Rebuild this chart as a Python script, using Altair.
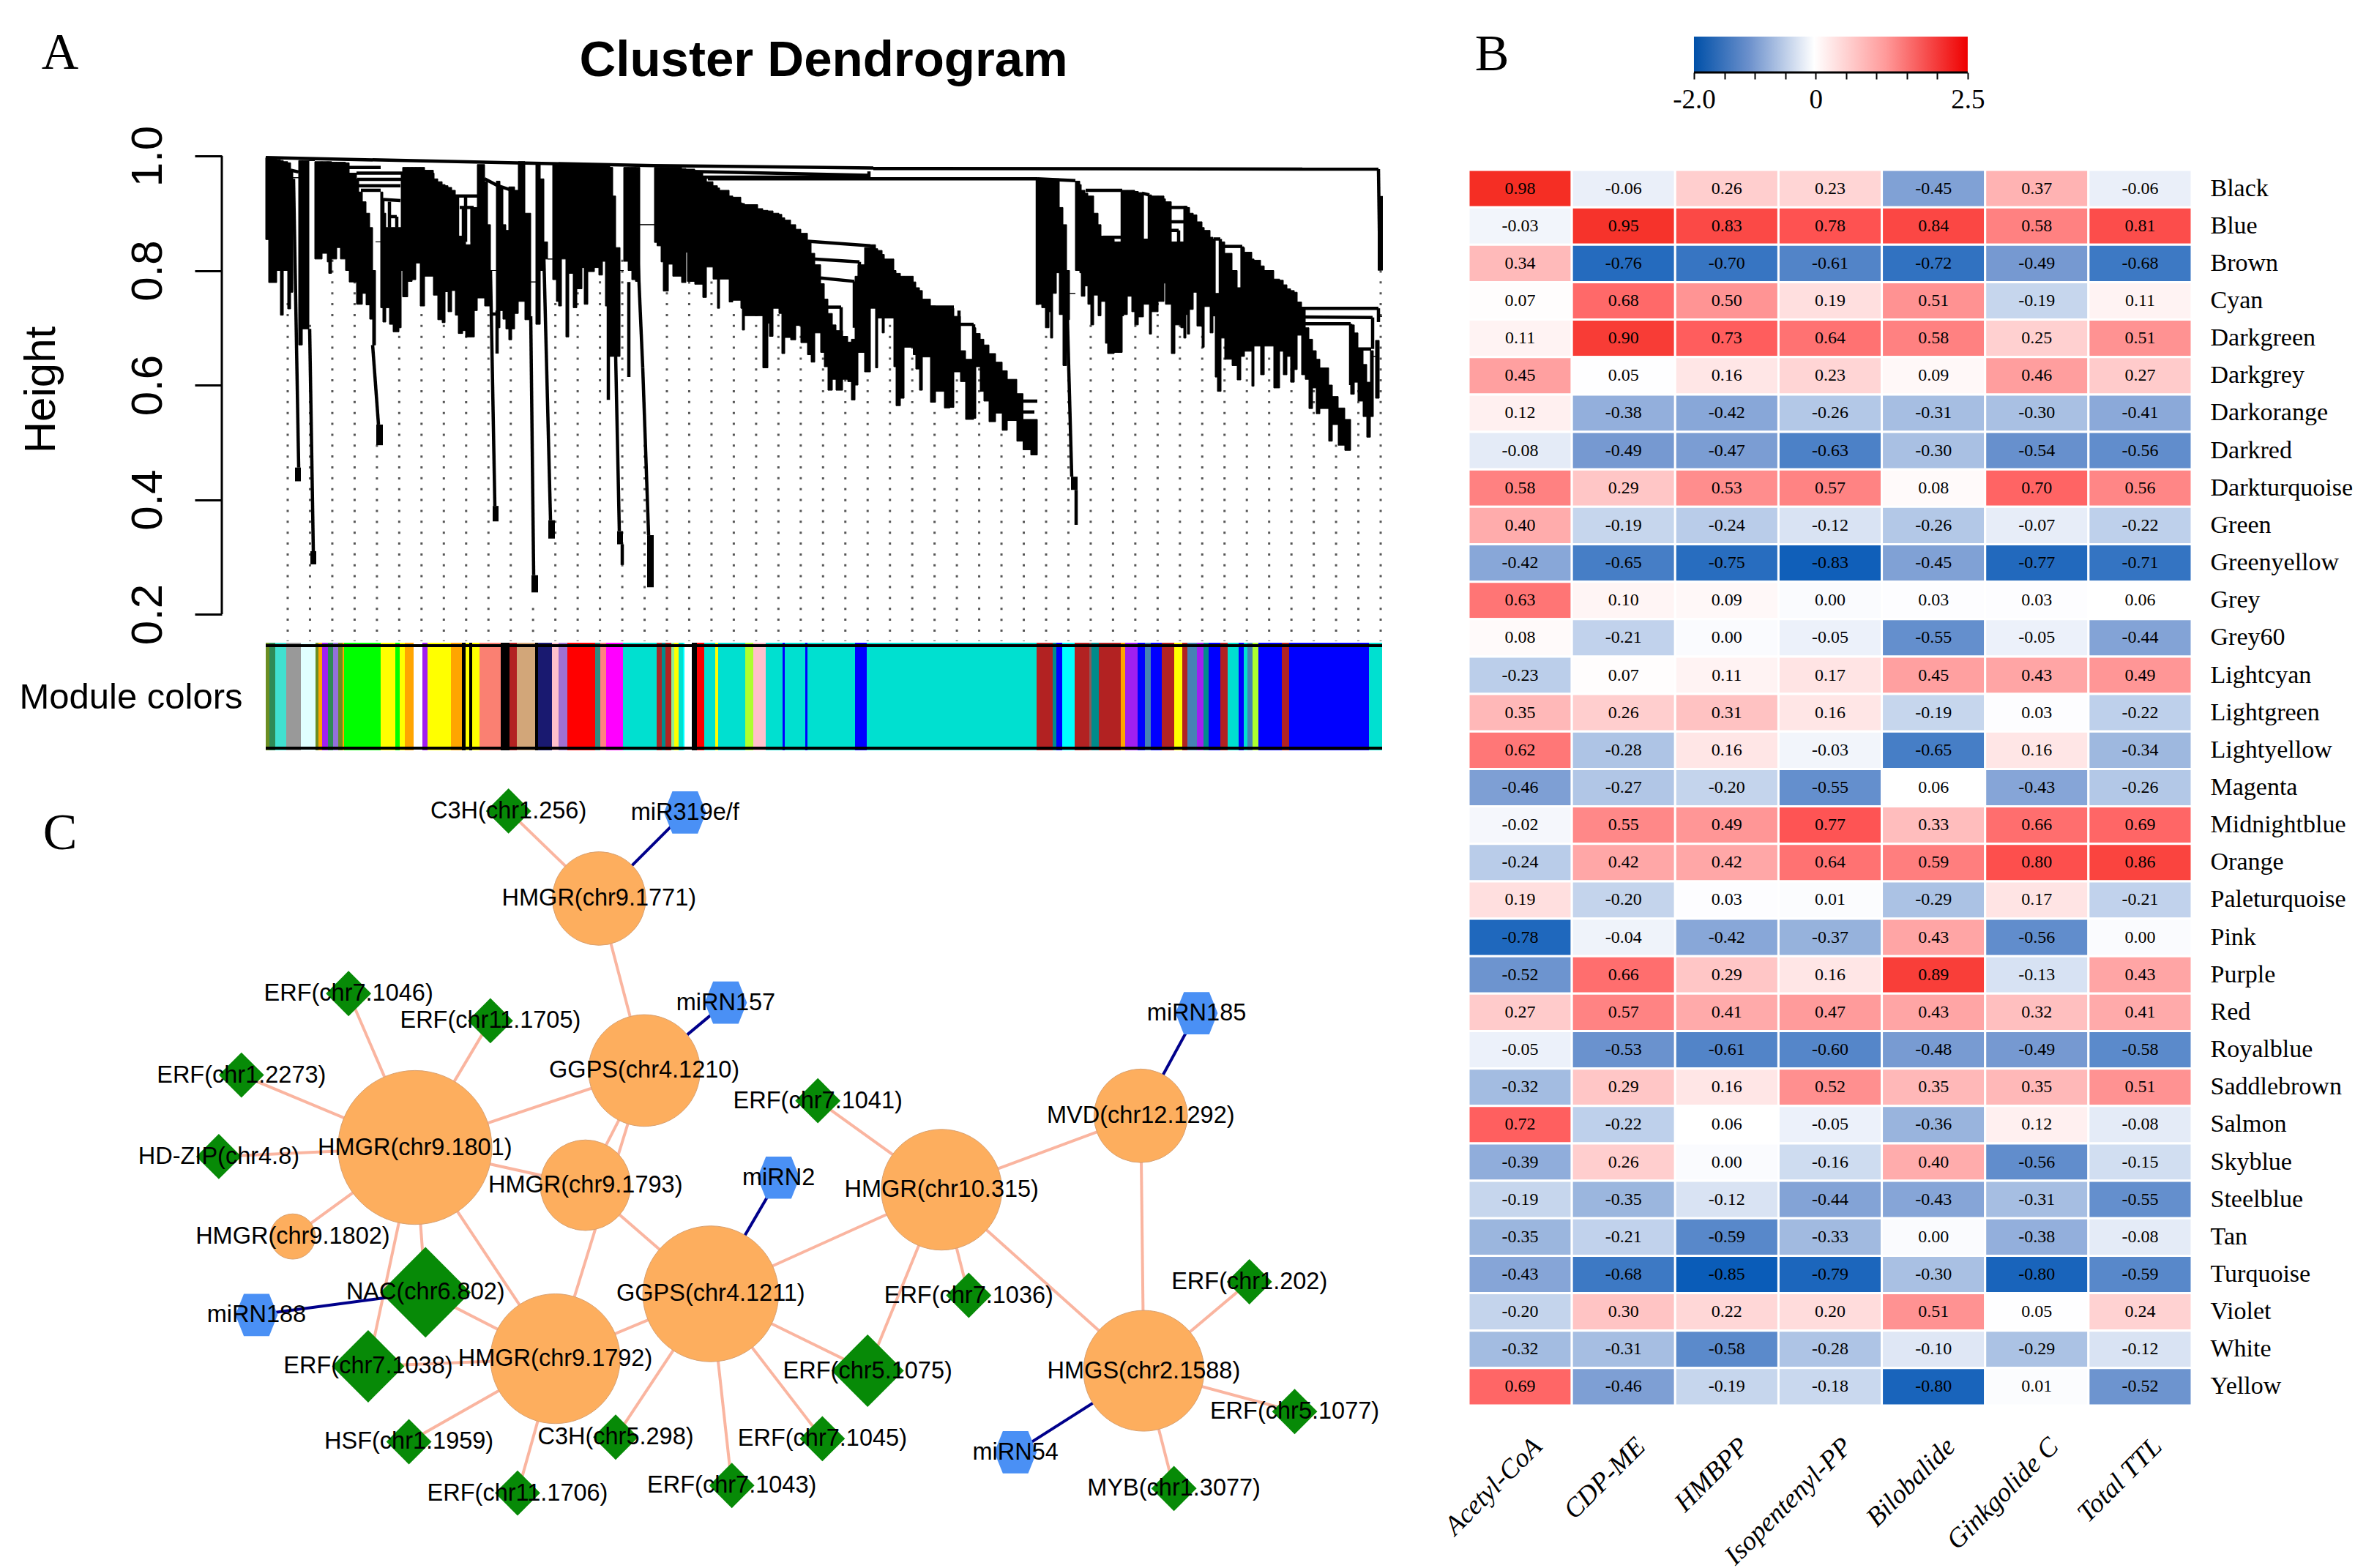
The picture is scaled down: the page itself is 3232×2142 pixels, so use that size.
import altair as alt
import pandas as pd

SANS = "Liberation Sans"
SERIF = "Liberation Serif"

# ---------- Panel A: dendrogram (leaf position, merge height, lowest leaf height) ----------
canopy_left = [
 (0,.997,.854),(4,.995,.779),(15,.993,.80),(20,.992,.722),(24,.99,.80),(30,.988,.733),(34,.975,.762),(37,.962,.962),
 (45,.992,.67),(50,.992,.698),(59,.992,.992),
 (67,.99,.82),(77,.99,.83),(84,.99,.815),(86,.99,.795),(90,.989,.82),(97,.989,.84),(102,.989,.82),(109,.988,.80),
 (114,.97,.78),(124,.96,.741),(127,.937,.741),(132,.92,.76),(137,.90,.74),(142,.875,.715),(146,.80,.67),(150,.85,.85),
 (157,.937,.735),(160,.90,.71),(164,.875,.735),(169,.875,.706),(174,.875,.693),(182,.875,.70),(185,.97,.80),
 (187,.98,.754),(194,.98,.781),(200,.98,.784),(205,.98,.813),(211,.98,.738),(217,.975,.79),(229,.97,.757),
 (230,.96,.757),(235,.955,.714),(241,.95,.709),(245,.948,.763),(249,.945,.728),(254,.94,.765),(259,.93,.722),
 (263,.86,.69),(269,.85,.695),(273,.845,.684),(280,.91,.684),(285,.91,.73),(289,.985,.752),(299,.955,.738),
 (303,.88,.738),(307,.8,.8),(315,.956,.70),(320,.946,.73),(324,.88,.715),(328,.87,.698),(332,.946,.679),(336,.946,.698),
 (340,.94,.725),(345,.99,.746),(354,.90,.714),(362,.78,.78),(369,.989,.706),(375,.96,.80),(380,.85,.82),(385,.82,.82),
 (392,.985,.784),(397,.985,.746),(400,.985,.738),(404,.985,.82),(410,.985,.684),(414,.985,.795),(420,.985,.735),
 (425,.985,.768),(432,.985,.805),(435,.985,.741),(440,.985,.798),(449,.985,.805),(455,.985,.792),(460,.985,.816),
 (464,.985,.738),(470,.98,.65),(474,.93,.65),(478,.84,.65),(484,.80,.80),(489,.98,.816),(495,.98,.80),(500,.98,.784),
 (505,.98,.781),(511,.88,.88),
]
canopy_middle = [
 (531,.98,.849),(534.5,.98,.843),(540,.98,.815),(543,.98,.764),(550,.98,.811),(556,.98,.79),(568,.978,.779),(574,.977,.832),
 (576,.977,.781),(586,.972,.776),(597,.962,.753),(602,.955,.806),(611,.948,.785),(617,.944,.734),(620,.94,.785),(633,.93,.745),
 (638,.928,.748),(649,.918,.734),(651,.917,.696),(654,.915,.721),(672,.908,.721),(679,.905,.63),(686,.904,.708),(688,.904,.685),
 (693,.90,.734),(701,.898,.725),(705,.892,.655),(709,.888,.683),(717,.88,.679),(724,.872,.704),(731,.865,.674),(740,.851,.653),
 (745,.83,.64),(750,.81,.691),(758,.777,.657),(763,.75,.632),(768,.725,.591),(774,.705,.61),(779,.695,.591),(788,.685,.61),
 (795,.675,.606),(800,.68,.574),(805,.79,.60),(809,.81,.657),(818,.84,.623),(826,.845,.734),(833,.838,.63),(836,.835,.717),
 (842,.828,.691),(845,.82,.717),(858,.80,.632),(861,.795,.564),(867,.79,.577),(872,.79,.666),(884.5,.78,.653),(888,.77,.628),
 (893,.765,.591),(897,.75,.649),(908,.738,.57),(915,.736,.589),(927,.735,.56),(934.5,.734,.561),(940,.72,.623),(949,.66,.606),
 (956,.645,.54),(967,.70,.542),(970,.69,.632),(976,.68,.589),(981,.67,.572),(988,.655,.536),(997,.64,.551),(1006,.625,.521),
 (1013,.61,.538),(1026,.585,.502),(1034.5,.54,.487),(1045,.54,.478),
]
canopy_right = [
 (1054,.96,.741),(1057,.96,.741),(1060,.96,.735),(1065,.96,.70),(1070,.96,.728),(1072,.96,.682),(1075,.96,.76),(1080,.96,.796),
 (1084,.91,.723),(1089,.88,.634),(1094,.80,.714),(1098,.76,.76),
 (1106,.956,.80),(1112,.95,.796),(1114,.94,.755),(1119,.935,.773),(1123,.93,.741),(1127,.93,.705),(1131,.90,.757),(1137,.88,.721),
 (1141,.86,.746),(1147,.86,.673),(1150,.855,.655),(1159,.85,.657),(1165,.85,.657),(1170,.94,.723),(1177,.94,.755),(1183,.94,.728),
 (1187,.938,.705),(1192,.936,.719),(1199,.855,.741),(1207,.932,.689),(1210,.93,.728),(1219,.93,.746),(1227,.925,.778),(1229,.92,.741),
 (1237,.85,.655),(1242,.85,.705),(1250,.85,.70),(1254,.912,.682),(1257,.911,.723),(1259,.91,.689),(1262,.90,.732),(1267,.897,.762),
 (1272,.885,.703),(1279,.875,.666),(1282,.87,.737),(1290,.858,.691),(1294,.855,.741),(1297,.76,.614),(1300,.76,.589),(1305,.85,.682),
 (1310,.83,.645),(1320,.80,.634),(1327,.77,.609),(1332,.84,.65),(1337,.832,.659),(1347,.82,.598),(1350,.818,.668),(1359,.808,.618),
 (1364,.80,.668),(1377,.785,.595),(1385,.783,.659),(1390,.775,.618),(1395,.768,.65),(1400,.765,.605),(1405,.762,.627),(1409,.745,.687),
 (1415,.732,.618),(1420,.70,.61),(1425,.68,.559),(1430,.66,.595),(1435,.645,.55),(1440,.63,.559),(1452,.60,.502),(1457,.58,.531),
 (1465,.56,.495),(1474,.54,.486),(1482,.705,.584),(1487,.691,.605),(1492,.664,.572),(1499,.636,.545),(1504,.605,.509),(1509,.66,.545),
 (1513,.65,.65),(1516,.678,.577),(1521,.72,.72),
]
canopy_end = 1525

# long single branches: start leaf, start height, end leaf, end height
long_stems = [
 (38,.96,45,.456),(60,.698,65,.31),(146,.67,154,.531),(307,.80,313,.389),(316,.73,316,.655),(362,.72,366,.268),(380,.82,389,.364),
 (468,.738,468,.574),(478,.65,483,.345),(487,.322,487,.286),(496,.78,496,.614),(503,.98,515,.63),(515,.63,523,.338),
 (1095,.72,1101,.44),(1107,.417,1107,.356),(1520,.977,1522,.80),
]
# dense leaf tips: left leaf, right leaf, upper height, lower height
tips = [
 (40,48,.456,.432),(61,69,.31,.287),(151,160,.531,.495),(310,318,.389,.362),(363,372,.268,.238),(386,395,.364,.332),(480,488,.345,.322),
 (521,530,.338,.247),(1100,1109,.44,.417),(1519,1526,.93,.80),
]
merges = [
 (0,.997,530,.983),(530,.983,830,.979),(830,.978,1520,.977),(583,.973,824,.966),(578,.963,824,.963),(604,.96,1054,.96),(1054,.96,1106,.957),(824,.973,824,.96),
 (109,.98,157,.98),(124,.97,187,.97),(125,.959,185,.959),(127,.948,184,.948),(130,.94,157,.94),(160,.924,184,.922),(169,.894,179,.894),
 (160,.924,160,.875),(169,.92,169,.875),(179,.894,179,.875),(299,.96,320,.946),(317,.948,336,.94),(259,.93,289,.93),(265,.91,284,.91),
 (262,.93,262,.86),(273,.93,273,.85),(282,.91,282,.85),(270,.91,270,.85),(307,.724,319,.724),(34,.975,45,.972),
 (740,.851,826,.843),(747,.82,811,.815),(758,.787,804,.781),(811,.815,811,.70),(804,.781,804,.70),(767,.736,786,.736),(786,.736,786,.68),
 (668,.901,686,.901),(674,.883,686,.883),(906,.736,940,.736),(947,.706,967,.706),(947,.73,947,.65),(967,.706,967,.60),
 (1033,.572,1054,.572),(1035,.553,1050,.553),(1054,.96,1054,.74),(1406,.734,1520,.734),(1520,.734,1520,.71),(1408,.719,1512,.718),(1512,.718,1512,.663),
 (1409,.707,1482,.707),(1482,.707,1482,.60),(1490,.663,1510,.663),(1120,.94,1170,.94),(1144,.858,1170,.858),(1170,.94,1170,.72),
 (1234,.91,1259,.91),(1234,.885,1257,.885),(1234,.87,1247,.87),(1259,.91,1259,.75),(1257,.885,1257,.75),(1247,.87,1247,.75),
 (1197,.935,1207,.932),(1197,.935,1197,.78),(1207,.932,1207,.75),(1295,.855,1304,.855),(1310,.842,1334,.842),(1334,.842,1334,.72),(1295,.855,1295,.72),(1304,.855,1304,.72),
]
guide_leaf = [30 + i * 30.47 for i in range(50)]
guide_start = [.75,.70,.82,.80,.50,.70,.74,.71,.69,.75,.70,.215,.74,.79,.80,.82,.50,.76,.78,.79,.72,.75,.82,.78,.70,.61,.61,.70,.67,.55,
               .63,.63,.52,.477,.685,.65,.70,.68,.70,.77,.72,.70,.72,.76,.65,.69,.59,.495,.59,.80]
height_ticks = [.2,.4,.6,.8,1.0]

# module colour strip: leaf where each colour begins
module_start = [0,5,13,28,48,68,72,77,85,92,99,105,107,157,177,183,190,202,214,221,253,268,273,278,282,292,321,333,343,368,372,391,400,412,450,457,465,488,534,541,546,554,558,564,570,572,582,589,599,614,618,655,666,683,706,709,737,740,805,821,1053,1075,1080,1088,1105,1125,1128,1138,1168,1174,1191,1201,1209,1224,1241,1252,1259,1272,1281,1288,1304,1314,1329,1336,1341,1348,1356,1388,1398,1507]
module_color = ["#6b8e23","#2e8b57","#40e0d0","#999999","#e0ffff","#6b8e23","#ffa500","#a020f0","#2e8b57","#9370db","#6b8e23","#ffa500","#00ff00","#ffff00","#00ff00","#ffff00","#ffa500","#ffffff","#a020f0","#ffff00","#ffa500","#000000","#ffff00","#000000","#ffff00","#fa8072","#000000","#b22222","#d2a679","#000000","#191970","#ffc0cb","#a070d0","#ff0000","#2e8b80","#ff8080","#ff00ff","#00e0d0","#a52a2a","#008b8b","#b22222","#90ee90","#ffff00","#00e0d0","#00ffff","#ffffff","#000000","#ff0000","#00e0d0","#ffff00","#00e0d0","#adff2f","#ffc0cb","#00e0d0","#0000ff","#00e0d0","#0000ff","#00e0d0","#0000ff","#00e0d0","#b22222","#008b8b","#0000ff","#00ffff","#b22222","#8b5a5a","#008b8b","#b22222","#ffa500","#a020f0","#0000ff","#4682b4","#0000ff","#b22222","#ffff00","#b22222","#4682b4","#a020f0","#008b8b","#0000ff","#b22222","#00e0d0","#0000ff","#00e0d0","#4682b4","#adff2f","#0000ff","#b22222","#0000ff","#00e0d0"]

# ---------- Panel B: correlation heat map ----------
traits = ["Acetyl-CoA","CDP-ME","HMBPP","Isopentenyl-PP","Bilobalide","Ginkgolide C","Total TTL"]
modules = ["Black","Blue","Brown","Cyan","Darkgreen","Darkgrey","Darkorange","Darkred","Darkturquoise","Green","Greenyellow","Grey","Grey60","Lightcyan","Lightgreen","Lightyellow","Magenta","Midnightblue","Orange","Paleturquoise","Pink","Purple","Red","Royalblue","Saddlebrown","Salmon","Skyblue","Steelblue","Tan","Turquoise","Violet","White","Yellow"]
correlations = [
 [.98,-.06,.26,.23,-.45,.37,-.06],[-.03,.95,.83,.78,.84,.58,.81],[.34,-.76,-.70,-.61,-.72,-.49,-.68],[.07,.68,.50,.19,.51,-.19,.11],
 [.11,.90,.73,.64,.58,.25,.51],[.45,.05,.16,.23,.09,.46,.27],[.12,-.38,-.42,-.26,-.31,-.30,-.41],[-.08,-.49,-.47,-.63,-.30,-.54,-.56],
 [.58,.29,.53,.57,.08,.70,.56],[.40,-.19,-.24,-.12,-.26,-.07,-.22],[-.42,-.65,-.75,-.83,-.45,-.77,-.71],[.63,.10,.09,.00,.03,.03,.06],
 [.08,-.21,.00,-.05,-.55,-.05,-.44],[-.23,.07,.11,.17,.45,.43,.49],[.35,.26,.31,.16,-.19,.03,-.22],[.62,-.28,.16,-.03,-.65,.16,-.34],
 [-.46,-.27,-.20,-.55,.06,-.43,-.26],[-.02,.55,.49,.77,.33,.66,.69],[-.24,.42,.42,.64,.59,.80,.86],[.19,-.20,.03,.01,-.29,.17,-.21],
 [-.78,-.04,-.42,-.37,.43,-.56,.00],[-.52,.66,.29,.16,.89,-.13,.43],[.27,.57,.41,.47,.43,.32,.41],[-.05,-.53,-.61,-.60,-.48,-.49,-.58],
 [-.32,.29,.16,.52,.35,.35,.51],[.72,-.22,.06,-.05,-.36,.12,-.08],[-.39,.26,.00,-.16,.40,-.56,-.15],[-.19,-.35,-.12,-.44,-.43,-.31,-.55],
 [-.35,-.21,-.59,-.33,.00,-.38,-.08],[-.43,-.68,-.85,-.79,-.30,-.80,-.59],[-.20,.30,.22,.20,.51,.05,.24],[-.32,-.31,-.58,-.28,-.10,-.29,-.12],
 [.69,-.46,-.19,-.18,-.80,.01,-.52],
]
heat_domain = [-1,-.85,-.5,-.25,0,.06,.25,.5,.75,1]
heat_range = ["#0050a8","#0a5cb8","#7397d0","#b6cae8","#fafbfe","#ffffff","#ffd0d0","#ff9494","#ff5858","#f42a20"]
bar_ticks = [-2,-1.5,-1,-.5,0,.5,1,1.5,2,2.5]

# ---------- Panel C: network ----------
nodes_hub = {
 "HMGR(chr9.1771)":(397,595,31),"GGPS(chr4.1210)":(427,709,37),"HMGR(chr9.1801)":(275,760,51),"HMGR(chr9.1793)":(388,785,30),
 "HMGR(chr9.1802)":(194,819,15),"HMGR(chr9.1792)":(368,900,43),"GGPS(chr4.1211)":(471,857,45),"HMGR(chr10.315)":(624,788,40),
 "MVD(chr12.1292)":(756,739,31),"HMGS(chr2.1588)":(758,908,40),
}
nodes_tf = {
 "C3H(chr1.256)":(337,537,15),"ERF(chr7.1046)":(231,658,15),"ERF(chr11.1705)":(325,676,15),"ERF(chr1.2273)":(160,712,15),
 "HD-ZIP(chr4.8)":(145,766,15),"NAC(chr6.802)":(282,856,30),"ERF(chr7.1038)":(244,905,24),"ERF(chr7.1041)":(542,729,15),
 "ERF(chr7.1036)":(642,858,15),"ERF(chr5.1075)":(575,908,24),"ERF(chr1.202)":(828,849,15),"ERF(chr5.1077)":(858,935,15),
 "MYB(chr1.3077)":(778,986,15),"C3H(chr5.298)":(408,952,15),"ERF(chr7.1045)":(545,953,15),"ERF(chr7.1043)":(485,984,15),
 "ERF(chr11.1706)":(343,989,15),"HSF(chr1.1959)":(271,955,15),
}
nodes_mirna = {
 "miR319e/f":(454,538,14),"miRN157":(481,664,14),"miRN188":(170,871,14),"miRN2":(516,780,14),"miRN185":(793,671,14),"miRN54":(673,962,14),
}
gene_edges = [
 ("C3H(chr1.256)","HMGR(chr9.1771)"),("HMGR(chr9.1771)","GGPS(chr4.1210)"),("ERF(chr7.1046)","HMGR(chr9.1801)"),("ERF(chr11.1705)","HMGR(chr9.1801)"),
 ("ERF(chr1.2273)","HMGR(chr9.1801)"),("HD-ZIP(chr4.8)","HMGR(chr9.1801)"),("HMGR(chr9.1802)","HMGR(chr9.1801)"),("HMGR(chr9.1801)","GGPS(chr4.1210)"),
 ("HMGR(chr9.1801)","HMGR(chr9.1793)"),("HMGR(chr9.1801)","NAC(chr6.802)"),("HMGR(chr9.1801)","ERF(chr7.1038)"),("HMGR(chr9.1801)","HMGR(chr9.1792)"),
 ("NAC(chr6.802)","HMGR(chr9.1792)"),("ERF(chr7.1038)","HMGR(chr9.1792)"),("HSF(chr1.1959)","HMGR(chr9.1792)"),("ERF(chr11.1706)","HMGR(chr9.1792)"),
 ("GGPS(chr4.1210)","HMGR(chr9.1793)"),("GGPS(chr4.1210)","HMGR(chr9.1792)"),("HMGR(chr9.1793)","GGPS(chr4.1211)"),("HMGR(chr9.1792)","GGPS(chr4.1211)"),
 ("GGPS(chr4.1211)","C3H(chr5.298)"),("GGPS(chr4.1211)","ERF(chr7.1045)"),("GGPS(chr4.1211)","ERF(chr7.1043)"),("GGPS(chr4.1211)","ERF(chr5.1075)"),
 ("GGPS(chr4.1211)","HMGR(chr10.315)"),("HMGR(chr10.315)","ERF(chr7.1041)"),("HMGR(chr10.315)","ERF(chr7.1036)"),("HMGR(chr10.315)","ERF(chr5.1075)"),
 ("HMGR(chr10.315)","MVD(chr12.1292)"),("HMGR(chr10.315)","HMGS(chr2.1588)"),("MVD(chr12.1292)","HMGS(chr2.1588)"),("HMGS(chr2.1588)","ERF(chr1.202)"),
 ("HMGS(chr2.1588)","ERF(chr5.1077)"),("HMGS(chr2.1588)","MYB(chr1.3077)"),
]
mirna_edges = [
 ("HMGR(chr9.1771)","miR319e/f"),("GGPS(chr4.1210)","miRN157"),("GGPS(chr4.1211)","miRN2"),("MVD(chr12.1292)","miRN185"),
 ("HMGS(chr2.1588)","miRN54"),("NAC(chr6.802)","miRN188"),
]

# ---------- geometry of the page ----------
PX = 3232 / 1568
PAD_LEFT, PAD_TOP = 18, 30

# ---------- build panel A ----------
canopy = pd.DataFrame(canopy_left + canopy_middle + canopy_right, columns=["x", "top", "bottom"])
canopy["x2"] = canopy["x"].shift(-1).fillna(canopy_end)
x_leaf = alt.Scale(domain=[0, 1525], nice=False, zero=False)
y_height = alt.Scale(domain=[.1502, 1.2083], nice=False, zero=False)
X = alt.X("x:Q", scale=x_leaf, axis=None)
X2 = alt.X2("x2:Q")
Y = alt.Y("top:Q", scale=y_height, axis=alt.Axis(
    values=height_ticks, format=".1f", title="Height", titleFont=SANS, titleFontSize=60, titleFontWeight="normal",
    titleX=-216, titleY=482, labelFont=SANS, labelFontSize=60, labelAngle=270, labelAlign="center", labelBaseline="bottom",
    labelPadding=33, offset=60, tickSize=37, tickWidth=3, tickColor="black", domain=False, grid=False, labelColor="black"))
Y2 = alt.Y2("bottom:Q")

guides = pd.DataFrame({"x": guide_leaf, "top": [.192 + round((s - .192) / .019) * .019 for s in guide_start], "bottom": .153})
layer_guides = alt.Chart(guides).mark_rule(color="#555555", strokeWidth=3, strokeDash=[3, 11.86]).encode(x=X, y=Y, y2=Y2)
layer_canopy = alt.Chart(canopy).mark_rect(color="black", stroke="black", strokeWidth=1).encode(x=X, x2=X2, y=Y, y2=Y2)
tip_df = pd.DataFrame(tips, columns=["x", "x2", "top", "bottom"])
layer_tips = alt.Chart(tip_df).mark_rect(color="black").encode(x=X, x2=X2, y=Y, y2=Y2)
seg_cols = ["x", "top", "x2", "bottom"]
layer_stems = alt.Chart(pd.DataFrame(long_stems, columns=seg_cols)).mark_rule(color="black", strokeWidth=4.5).encode(x=X, x2=X2, y=Y, y2=Y2)
layer_merges = alt.Chart(pd.DataFrame(merges, columns=seg_cols)).mark_rule(color="black", strokeWidth=4.5).encode(x=X, x2=X2, y=Y, y2=Y2)
layer_axis = alt.Chart(pd.DataFrame({"top": [1.0], "bottom": [.2]})).mark_rule(color="black", strokeWidth=3).encode(x=alt.value(-60), y=Y, y2=Y2)

def note(text, x, y, size, font=SANS, weight="normal", align="center", style="normal"):
    return alt.Chart(pd.DataFrame({"t": [text]})).mark_text(
        font=font, fontSize=size, fontWeight=weight, align=align, baseline="middle", color="black", fontStyle=style
    ).encode(x=alt.value(x), y=alt.value(y), text="t:N")

panel_a = alt.layer(
    layer_guides, layer_canopy, layer_tips, layer_stems, layer_merges, layer_axis,
    note("Cluster Dendrogram", 762, 33, 69, weight="bold"),
    note("A", -281, 23, 70, font=SERIF),
).properties(width=1525, height=828)

# strip
strip = pd.DataFrame({"x": module_start, "c": module_color})
strip["x2"] = strip["x"].shift(-1).fillna(canopy_end)
panel_strip = alt.layer(
    alt.Chart(strip).mark_rect().encode(x=X, x2=X2, color=alt.Color("c:N", scale=None)),
    alt.Chart(pd.DataFrame({"x": [0], "x2": [1525]})).mark_rule(color="black", strokeWidth=4).encode(x=X, x2=X2, y=alt.value(4)),
    alt.Chart(pd.DataFrame({"x": [0], "x2": [1525]})).mark_rule(color="black", strokeWidth=4).encode(x=X, x2=X2, y=alt.value(144)),
    note("Module colors", -184, 75, 49),
).properties(width=1525, height=147)

# ---------- build panel C ----------
pos = {**nodes_hub, **nodes_tf, **nodes_mirna}
def edge_frame(pairs):
    return pd.DataFrame([{"x": pos[a][0], "y": pos[a][1], "x2": pos[b][0], "y2": pos[b][1]} for a, b in pairs])
def node_frame(d):
    return pd.DataFrame([{"name": k, "x": v[0], "y": v[1], "s": (2 * v[2] * PX) ** 2} for k, v in d.items()])

net_x = alt.Scale(domain=[363 / PX, 1888 / PX], nice=False, zero=False)
net_y = alt.Scale(domain=[2120 / PX, 1024 / PX], nice=False, zero=False)
NX = alt.X("x:Q", scale=net_x, axis=None)
NY = alt.Y("y:Q", scale=net_y, axis=None)
HEX = "M-1,0L-0.6,-1L0.6,-1L1,0L0.6,1L-0.6,1Z"

def edges(pairs, color):
    return alt.Chart(edge_frame(pairs)).mark_rule(color=color, strokeWidth=4).encode(x=NX, x2=alt.X2("x2:Q"), y=NY, y2=alt.Y2("y2:Q"))
def nodes(d, shape, fill, stroke, w):
    return alt.Chart(node_frame(d)).mark_point(shape=shape, filled=True, fill=fill, stroke=stroke, strokeWidth=w, opacity=1).encode(
        x=NX, y=NY, size=alt.Size("s:Q", scale=None, legend=None))
all_nodes = pd.DataFrame([{"name": k, "x": v[0], "y": v[1]} for k, v in pos.items()])
panel_c = alt.layer(
    edges(gene_edges, "#fab5a0"), edges(mirna_edges, "#00008b"),
    nodes(nodes_hub, "circle", "#fdae5e", "#d8a070", 1),
    nodes(nodes_tf, "diamond", "#078a07", "#078a07", 0),
    nodes(nodes_mirna, HEX, "#4a90f5", "#4a90f5", 0),
    alt.Chart(all_nodes).mark_text(font=SANS, fontSize=32.5, color="black", align="center", baseline="middle").encode(x=NX, y=NY, text="name:N"),
    note("C", -281, 114, 70, font=SERIF),
).properties(width=1525, height=1096)

left = alt.vconcat(panel_a, panel_strip, panel_c, spacing=0, bounds="flush")

# ---------- build panel B ----------
bar_x = alt.Scale(domain=[-5.706, 6.183], nice=False, zero=False)
gradient = alt.Gradient(gradient="linear", x1=0, x2=1, y1=0, y2=0, stops=[
    alt.GradientStop(offset=0, color="#0050a8"), alt.GradientStop(offset=.2, color="#6b90cc"),
    alt.GradientStop(offset=.44, color="#ffffff"), alt.GradientStop(offset=.7, color="#ff9a9a"), alt.GradientStop(offset=1, color="#ee0000")])
bar_df = pd.DataFrame({"v": [-2.0], "v2": [2.5]})
BX = alt.X("v:Q", scale=bar_x, axis=alt.Axis(
    values=bar_ticks, domain=False, grid=False, tickSize=9, tickWidth=2, tickColor="black", title=None,
    labelFont=SERIF, labelFontSize=37, labelColor="black", labelPadding=10, labelOverlap=False, labelFlush=False,
    labelExpr="datum.value == -2 ? '-2.0' : datum.value == 0 ? '0' : datum.value == 2.5 ? '2.5' : ''"))
panel_bar = alt.layer(
    alt.Chart(bar_df).mark_rect(color=gradient).encode(x=BX, x2=alt.X2("v2:Q")),
    alt.Chart(bar_df).mark_rule(color="black", strokeWidth=3).encode(x=BX, x2=alt.X2("v2:Q"), y=alt.value(49)),
    note("B", 32, 25, 70, font=SERIF),
).properties(width=988, height=49)

heat = pd.DataFrame([{"module": m, "trait": t, "r": correlations[i][j], "label": f"{correlations[i][j]:.2f}"}
                     for i, m in enumerate(modules) for j, t in enumerate(traits)])
HX = alt.X("trait:N", sort=traits, scale=alt.Scale(paddingInner=0, paddingOuter=0), axis=alt.Axis(
    title=None, domain=False, ticks=False, labelAngle=315, labelAlign="right", labelBaseline="middle", labelFont=SERIF,
    labelFontStyle="italic", labelFontSize=37, labelColor="black", labelPadding=50, labelOverlap=False, labelLimit=0, labelOffset=24))
HY = alt.Y("module:N", sort=modules, scale=alt.Scale(paddingInner=0, paddingOuter=0), axis=alt.Axis(
    title=None, orient="right", domain=False, ticks=False, labelFont=SERIF, labelFontSize=34, labelColor="black", labelPadding=25,
    labelOverlap=False, labelLimit=0))
panel_heat = alt.layer(
    alt.Chart(heat).mark_rect(stroke="white", strokeWidth=3).encode(
        x=HX, y=HY, color=alt.Color("r:Q", legend=None, scale=alt.Scale(domain=heat_domain, range=heat_range, clamp=True, interpolate="rgb"))),
    alt.Chart(heat).mark_text(font=SERIF, fontSize=24, color="black").encode(x=HX, y=HY, text="label:N"),
).properties(width=988, height=1688)

right = alt.vconcat(panel_bar, panel_heat, spacing=133, bounds="flush")

chart = alt.hconcat(left, right, spacing=1643, bounds="flush").properties(
    padding={"left": PAD_LEFT, "top": PAD_TOP, "right": 0, "bottom": 0}, background="white"
).configure_view(stroke=None)

chart.save("out.html", embed_options={"renderer": "svg", "actions": False})
